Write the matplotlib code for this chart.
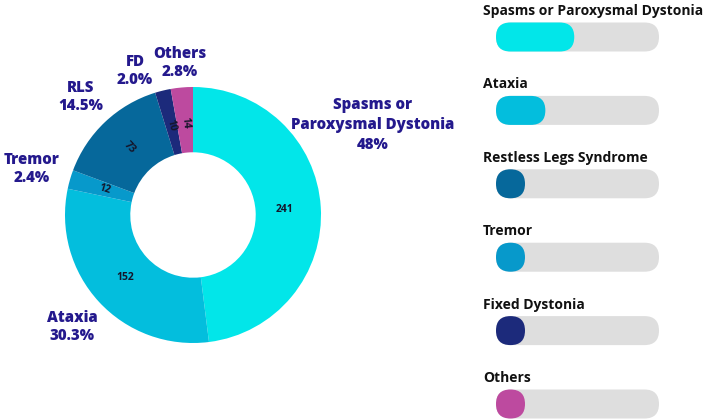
import numpy as np
import matplotlib
matplotlib.use("Agg")
import matplotlib.pyplot as plt
from matplotlib.patches import FancyBboxPatch

plt.rcParams['font.family'] = ['Open Sans', 'DejaVu Sans']

# data (clockwise from 12 o'clock)
short_names = ["Spasms or\nParoxysmal Dystonia", "Ataxia", "Tremor", "RLS", "FD", "Others"]
counts = [241, 152, 12, 73, 10, 14]
pct_labels = ["48%", "30.3%", "2.4%", "14.5%", "2.0%", "2.8%"]
colors = ["#02E6E9", "#03BEDD", "#0799CB", "#06689B", "#1C2A7B", "#BD4A9F"]

# legend panel on the right (top to bottom)
bar_names = ["Spasms or Paroxysmal Dystonia", "Ataxia", "Restless Legs Syndrome",
             "Tremor", "Fixed Dystonia", "Others"]
bar_counts = [241, 152, 73, 12, 10, 14]
bar_colors = ["#02E6E9", "#03BEDD", "#06689B", "#0799CB", "#1C2A7B", "#BD4A9F"]

label_color = "#24198D"
W, H = 709, 420

fig = plt.figure(figsize=(W / 100, H / 100), dpi=100)

# overlay axes in pixel units for text and the progress bars
ov = fig.add_axes([0, 0, 1, 1])
ov.set_xlim(0, W)
ov.set_ylim(H, 0)
ov.axis('off')

# donut: centre (193, 215) px, radius 128 px
cx, cy, R = 193, 215, 128
pax = fig.add_axes([(cx - R) / W, (H - cy - R) / H, 2 * R / W, 2 * R / H])
wedges, _ = pax.pie(counts, colors=colors, startangle=90, counterclock=False,
                    radius=1, wedgeprops=dict(width=0.51, linewidth=0))
pax.set_xlim(-1, 1)
pax.set_ylim(-1, 1)

# value labels inside the ring
for w, c in zip(wedges, counts):
    mid = np.deg2rad((w.theta1 + w.theta2) / 2)
    x, y = 0.72 * np.cos(mid), 0.72 * np.sin(mid)
    rot = 0 if c > 100 else np.rad2deg(mid) - 180
    pax.text(x, y, str(c), ha='center', va='center', fontsize=7.5, fontweight=700,
             color='#15152a', rotation=rot, rotation_mode='anchor')

# outer category labels (pixel positions of text centres)
label_pos = [(373, 125), (72, 327), (32, 169), (81, 97), (135, 71), (180, 63)]
for name, pct, (x, y) in zip(short_names, pct_labels, label_pos):
    ov.text(x, y, name + "\n" + pct, ha='center', va='center', fontsize=10.8,
            fontweight=800, color=label_color,
            linespacing=1.35 if '\n' in name else 1.15)

# progress-bar legend
x0, x1, bh = 496, 659, 29
total = sum(counts)
for i, (name, c, col) in enumerate(zip(bar_names, bar_counts, bar_colors)):
    yc = 37 + 73.4 * i
    ov.text(483, yc - 22, name, ha='left', va='baseline', fontsize=10,
            fontweight='bold', color='#111111')
    ov.add_patch(FancyBboxPatch((x0, yc - bh / 2), x1 - x0, bh,
                                boxstyle=f"round,pad=0,rounding_size={bh / 2}",
                                fc='#DEDEDE', ec='none'))
    fw = max(c / total * (x1 - x0), bh)
    ov.add_patch(FancyBboxPatch((x0, yc - bh / 2), fw, bh,
                                boxstyle=f"round,pad=0,rounding_size={bh / 2}",
                                fc=col, ec='none'))

fig.savefig("out.png", dpi=100)
